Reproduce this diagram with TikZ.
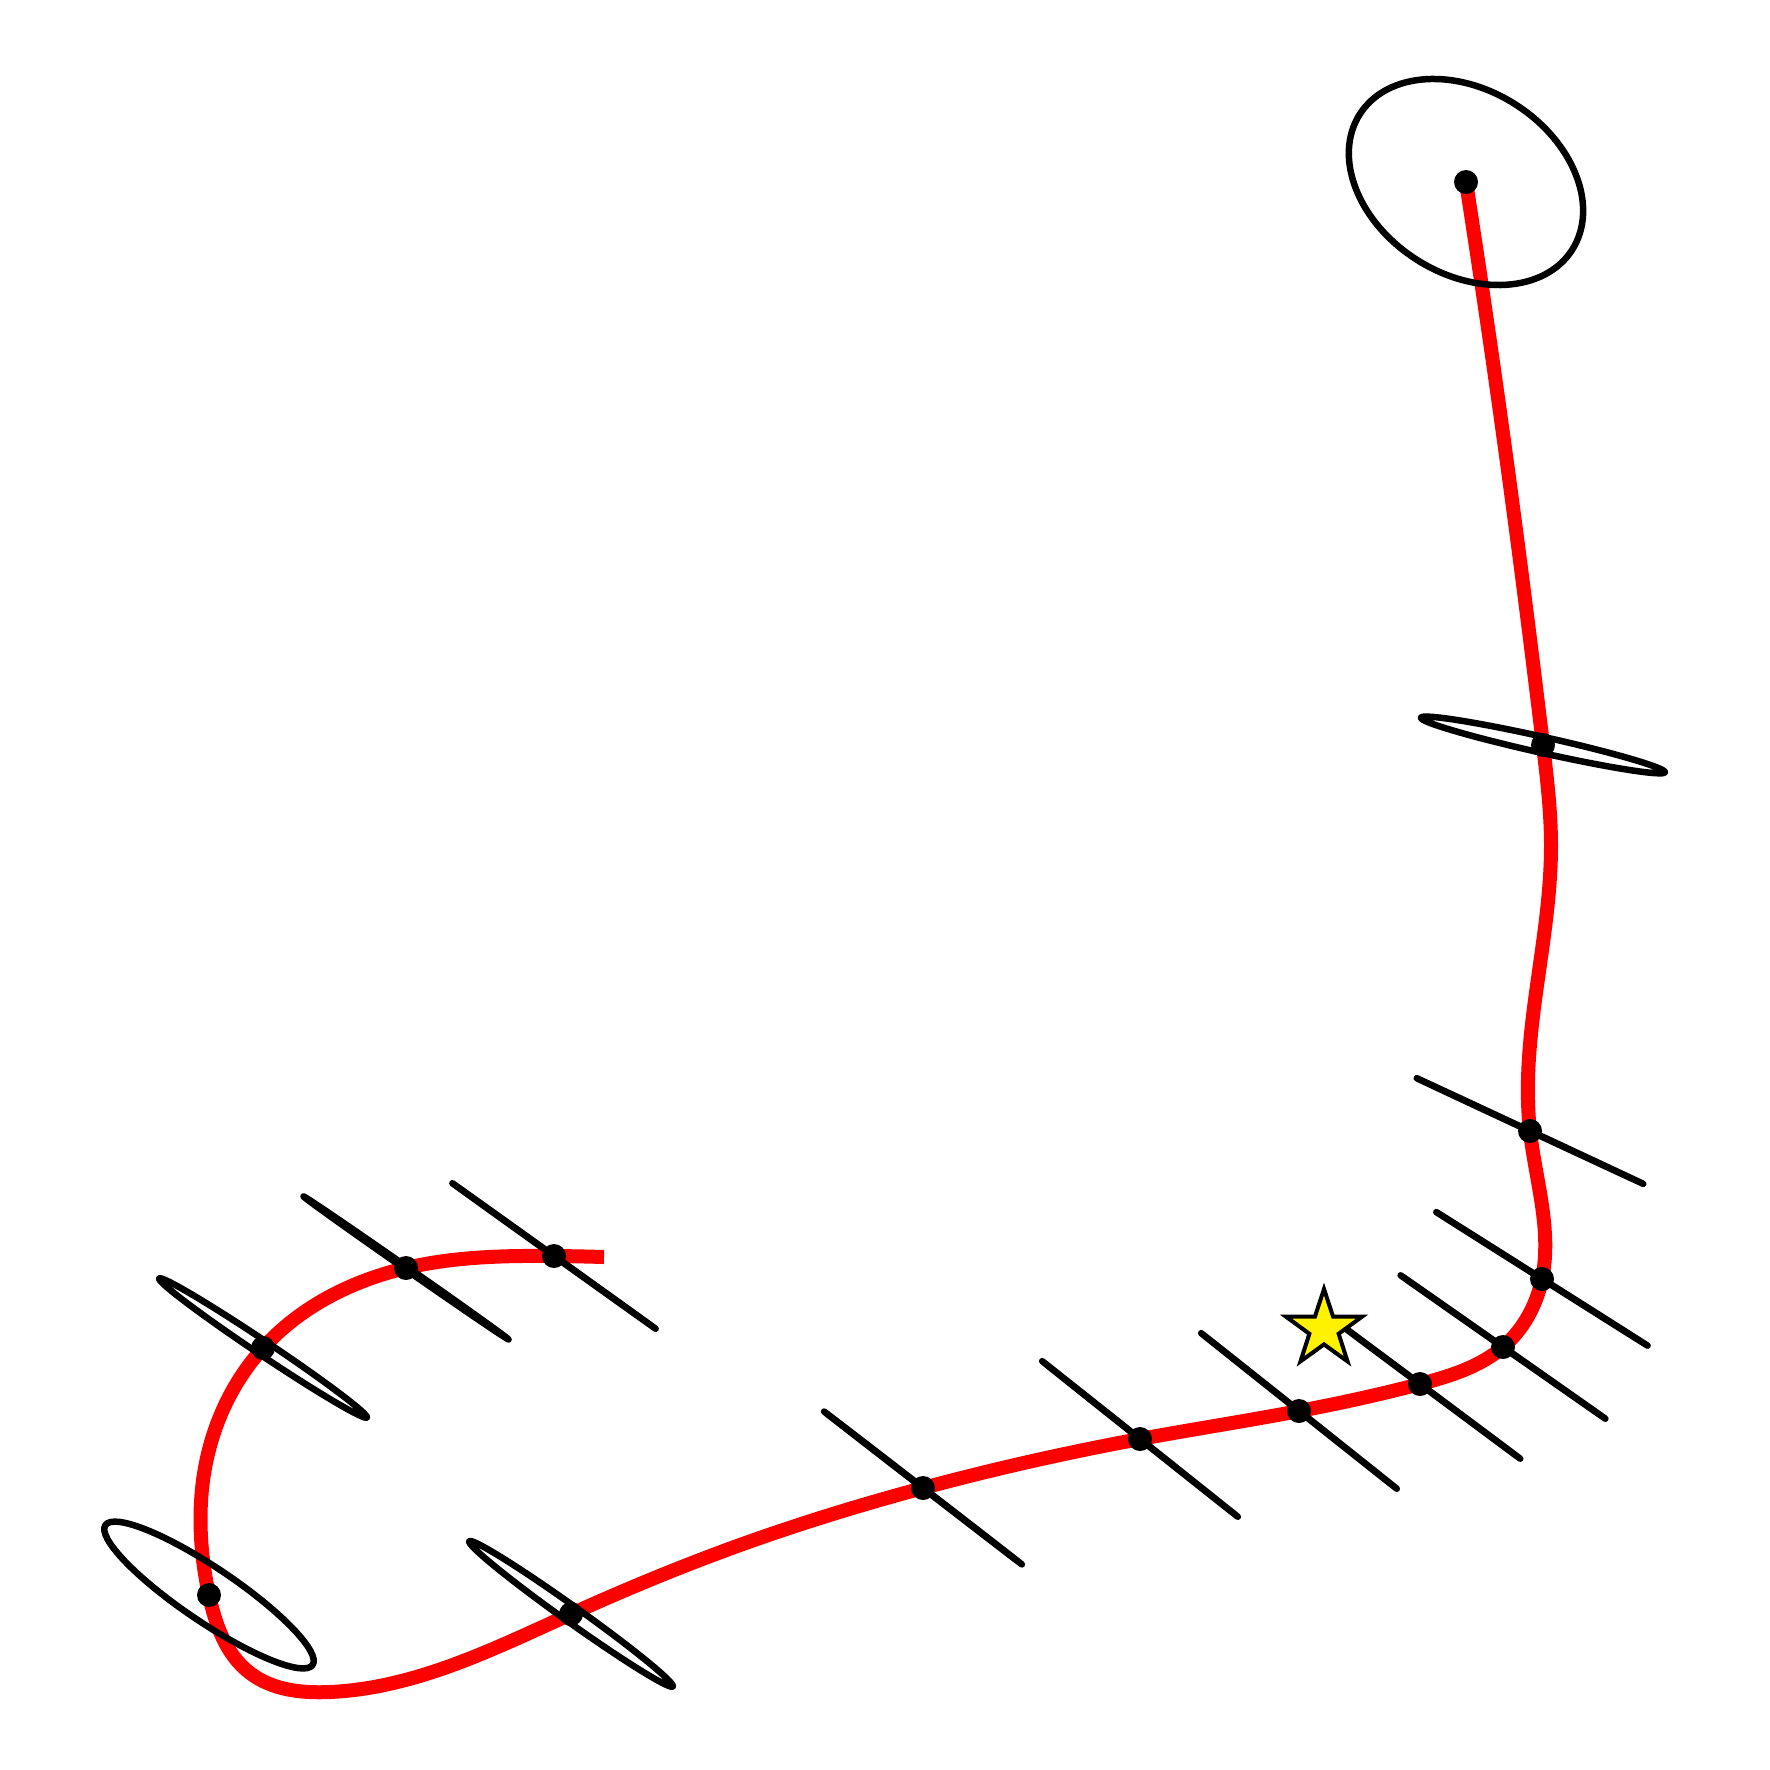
\documentclass[tikz,border=0pt]{standalone}
\usepackage{tikz}
\usetikzlibrary{shapes.geometric,hobby}

\tikzset{
	bahn/.style={color=red, line width=1.4mm, use Hobby shortcut},
	ell/.style={black, line width=0.65mm, line cap=round, line join=round},
	punkt/.style={circle, fill=black, inner sep=0pt, minimum size=2.4mm},
	ziel/.style={star, star points=5, star point ratio=2.6, minimum size=8mm,
		inner sep=0pt, fill=yellow, draw=black, line width=0.4mm}
}

\begin{document}
\begin{tikzpicture}[x=0.1mm,y=-0.1mm]
	\useasboundingbox (0,0) rectangle (1770,1770);
	% Punkte
	\coordinate (p1) at (554,1256);
	\coordinate (p2) at (406,1268);
	\coordinate (p3) at (263,1348);
	\coordinate (p4) at (209,1595);
	\coordinate (p5) at (571,1614);
	\coordinate (p6) at (923,1488);
	\coordinate (p7) at (1140,1439);
	\coordinate (p8) at (1299,1411);
	\coordinate (p9) at (1420,1384);
	\coordinate (p10) at (1503,1347);
	\coordinate (p11) at (1542,1279);
	\coordinate (p12) at (1530,1131);
	\coordinate (p13) at (1543,745);
	\coordinate (p14) at (1466,182);
	% Bahn zeichnen
	\draw [bahn] (604,1257) .. (p1) .. (p2) .. (p3) .. (207,1458) .. (p4)
		.. (250,1673) .. (330,1692) .. (p5) .. (740,1545) .. (p6) .. (p7) .. (p8)
		.. (p9) .. (p10) .. (p11) .. (p12) .. (1535,1000) .. (1551,845) .. (p13)
		.. (1512,500) .. (p14);
	% Ellipsen zeichnen
	\draw [ell,rotate around={-35.6:(p1)}] (p1) ellipse [x radius=12.5mm, y radius=0.02mm];
	\draw [ell,rotate around={-34.9:(p2)}] (p2) ellipse [x radius=12.5mm, y radius=0.15mm];
	\draw [ell,rotate around={-33.8:(p3)}] (p3) ellipse [x radius=12.5mm, y radius=0.7mm];
	\draw [ell,rotate around={-34:(p4)}] (p4) ellipse [x radius=12.5mm, y radius=2.7mm];
	\draw [ell,rotate around={-35.5:(p5)}] (p5) ellipse [x radius=12.5mm, y radius=0.8mm];
	\draw [ell,rotate around={-37.7:(p6)}] (p6) ellipse [x radius=12.5mm, y radius=0.03mm];
	\draw [ell,rotate around={-38.5:(p7)}] (p7) ellipse [x radius=12.5mm, y radius=0.02mm];
	\draw [ell,rotate around={-38.5:(p8)}] (p8) ellipse [x radius=12.5mm, y radius=0.02mm];
	\draw [ell,rotate around={-36.7:(p9)}] (p9) ellipse [x radius=12.5mm, y radius=0.02mm];
	\draw [ell,rotate around={-35:(p10)}] (p10) ellipse [x radius=12.5mm, y radius=0.02mm];
	\draw [ell,rotate around={-32.3:(p11)}] (p11) ellipse [x radius=12.5mm, y radius=0.02mm];
	\draw [ell,rotate around={-25:(p12)}] (p12) ellipse [x radius=12.5mm, y radius=0.02mm];
	\draw [ell,rotate around={-12.6:(p13)}] (p13) ellipse [x radius=12.5mm, y radius=0.8mm];
	\draw [ell,rotate around={-32.6:(p14)}] (p14) ellipse [x radius=12.6mm, y radius=9.2mm];
	% Mittelpunkte
	\node [punkt] (m1) at (p1) {};
	\node [punkt] (m2) at (p2) {};
	\node [punkt] (m3) at (p3) {};
	\node [punkt] (m4) at (p4) {};
	\node [punkt] (m5) at (p5) {};
	\node [punkt] (m6) at (p6) {};
	\node [punkt] (m7) at (p7) {};
	\node [punkt] (m8) at (p8) {};
	\node [punkt] (m9) at (p9) {};
	\node [punkt] (m10) at (p10) {};
	\node [punkt] (m11) at (p11) {};
	\node [punkt] (m12) at (p12) {};
	\node [punkt] (m13) at (p13) {};
	\node [punkt] (m14) at (p14) {};
	% Stern
	\node [ziel] (stern) at (1324,1329) {};
\end{tikzpicture}
\end{document}
